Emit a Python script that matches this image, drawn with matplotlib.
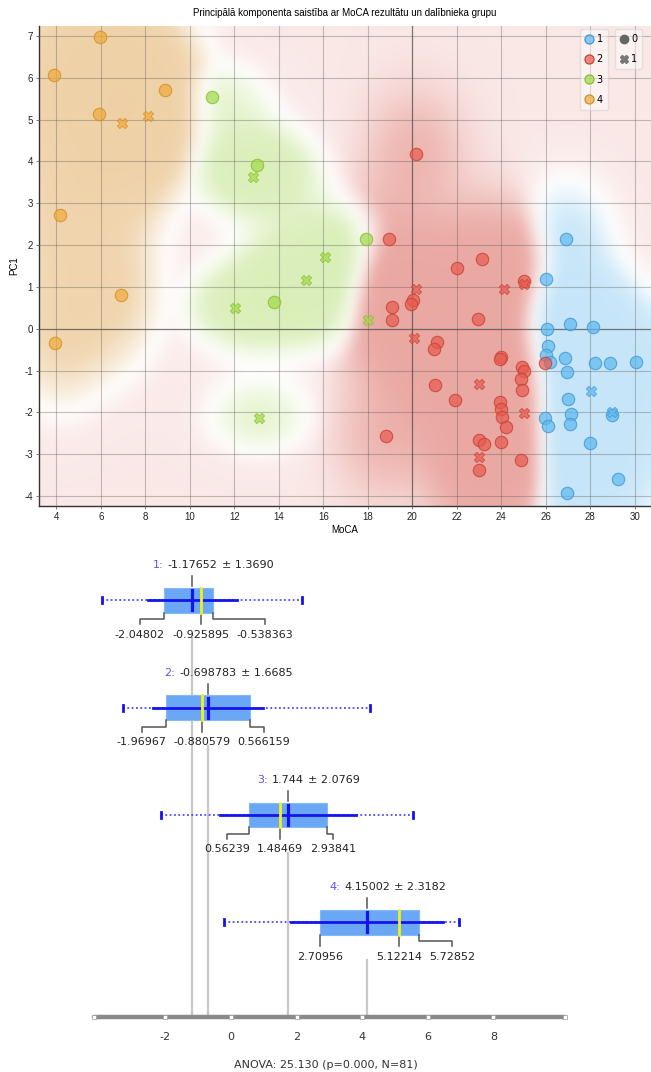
"""
PC1 vs MoCA scatter with group background map, plus box-plot summary per group.
"""

import numpy as np
import matplotlib
matplotlib.use('Agg')
import matplotlib.pyplot as plt
from matplotlib.lines import Line2D
from matplotlib.patches import Rectangle
from matplotlib.colors import to_rgb

plt.rcParams['axes.unicode_minus'] = False

# ---------------------------------------------------------------------------
# Scatter data (MoCA, PC1, cross marker flag) per group
# ---------------------------------------------------------------------------
g1_moca = [26.9, 26.01, 26.07, 27.07, 28.12, 26.11, 26.02, 26.2, 26.87, 28.19, 28.89,
           30.06, 26.97, 27.0, 27.15, 27.07, 25.95, 26.1, 28.98, 28.0, 29.24, 26.97,
           28.04, 28.97]
g1_pc1 = [2.14, 1.18, 0.0, 0.11, 0.05, -0.41, -0.64, -0.8, -0.69, -0.81, -0.81,
          -0.8, -1.04, -1.69, -2.03, -2.29, -2.13, -2.33, -2.07, -2.74, -3.59, -3.94,
          -1.49, -1.99]
g1_cross = [0] * 22 + [1, 1]

g2_moca = [23.11, 22.02, 25.0, 19.07, 20.01, 19.93, 19.07, 22.96, 21.12, 20.97, 24.0,
           23.93, 24.95, 25.0, 24.87, 24.92, 25.95, 21.0, 21.93, 23.93, 23.98, 24.04,
           24.2, 18.82, 23.0, 23.21, 23.98, 24.87, 23.0, 20.15, 18.97,
           20.16, 24.13, 25.0, 20.07, 22.99, 25.01, 22.99]
g2_pc1 = [1.66, 1.46, 1.14, 0.52, 0.69, 0.58, 0.2, 0.24, -0.31, -0.49, -0.67,
          -0.73, -0.92, -1.01, -1.2, -1.47, -0.81, -1.35, -1.71, -1.75, -1.93, -2.1,
          -2.35, -2.57, -2.67, -2.75, -2.71, -3.14, -3.39, 4.19, 2.15,
          0.94, 0.94, 1.08, -0.22, -1.33, -2.02, -3.06]
g2_cross = [0] * 31 + [1] * 7

g3_moca = [11.01, 13.0, 13.8, 17.92, 12.85, 12.03, 15.22, 16.08, 13.11, 18.0]
g3_pc1 = [5.55, 3.91, 0.63, 2.15, 3.62, 0.5, 1.16, 1.72, -2.13, 0.21]
g3_cross = [0, 0, 0, 0, 1, 1, 1, 1, 1, 1]

g4_moca = [5.96, 3.87, 8.89, 5.93, 4.17, 6.89, 3.94, 6.94, 8.13]
g4_pc1 = [6.98, 6.07, 5.71, 5.13, 2.73, 0.8, -0.33, 4.91, 5.09]
g4_cross = [0, 0, 0, 0, 0, 0, 0, 1, 1]

groups = ['1', '2', '3', '4']
group_colors = ['#5fb8ef', '#e85a4f', '#a2d94a', '#f0aa3c']
group_edges = ['#3d98d6', '#c94035', '#86bf2c', '#d48e22']
bg_colors = ['#78c2f0', '#dc6a60', '#b4de72', '#e2ab5e']
bg_alpha = [0.42, 0.58, 0.5, 0.55]

# ---------------------------------------------------------------------------
# Box-plot statistics per group
# ---------------------------------------------------------------------------
box_mean = [-1.17652, -0.698783, 1.744, 4.15002]
box_sd = [1.3690, 1.6685, 2.0769, 2.3182]
box_q1 = [-2.04802, -1.96967, 0.56239, 2.70956]
box_med = [-0.925895, -0.880579, 1.48469, 5.12214]
box_q3 = [-0.538363, 0.566159, 2.93841, 5.72852]
box_min = [-3.94, -3.30, -2.12, -0.22]
box_max = [2.16, 4.23, 5.54, 6.96]
anova_f, anova_p, anova_n = 25.130, 0.000, 81
axis_ticks = [-2, 0, 2, 4, 6, 8]

W, H = 651, 1072
fig = plt.figure(figsize=(W / 100, H / 100), dpi=100)

# ===========================================================================
# Scatter
# ===========================================================================
ax = fig.add_axes([39.3 / W, 1 - 506 / H, 611.7 / W, 480 / H])
XLIM, YLIM = (3.23, 30.73), (-4.24, 7.24)

all_moca = [g1_moca, g2_moca, g3_moca, g4_moca]
all_pc1 = [g1_pc1, g2_pc1, g3_pc1, g4_pc1]
all_cross = [g1_cross, g2_cross, g3_cross, g4_cross]

# background: per-group kernel scores, coloured by winning group
gx = np.linspace(*XLIM, 330)
gy = np.linspace(*YLIM, 260)
GX, GY = np.meshgrid(gx, gy)
bw = [(1.3, 0.9), (1.3, 0.9), (2.0, 0.75), (1.7, 1.4)]
base = [0.33, 0.6, 0.05, 0.07]
kern = []
for mx, my, (hx, hy) in zip(all_moca, all_pc1, bw):
    mx, my = np.array(mx), np.array(my)
    k = np.exp(-0.5 * (((GX[..., None] - mx) / hx) ** 2 + ((GY[..., None] - my) / hy) ** 2))
    kern.append(k.sum(-1))
K = np.stack(kern)
S = K + np.array(base)[:, None, None]
P = S / S.sum(0)
win = P.argmax(0)
Ps = np.sort(P, axis=0)
margin = np.clip((Ps[-1] - Ps[-2]) / 0.3, 0, 1) ** 0.8
k_win = np.take_along_axis(K, win[None], 0)[0]
dens = 1 - np.exp(-k_win / 0.7)
inten = margin * (0.3 + 0.7 * dens)

img = np.ones(GX.shape + (3,))
for i in range(4):
    m = win == i
    a = (inten * bg_alpha[i])[m][:, None]
    img[m] = (1 - a) + a * np.array(to_rgb(bg_colors[i]))

# soften the map a little
sig = 3.0
kx = np.arange(-9, 10)
g1d = np.exp(-0.5 * (kx / sig) ** 2)
g1d /= g1d.sum()
pad = np.pad(img, ((9, 9), (9, 9), (0, 0)), mode='edge')
tmp = sum(g1d[j] * pad[:, j:j + img.shape[1], :] for j in range(len(kx)))
img = sum(g1d[j] * tmp[j:j + img.shape[0], :, :] for j in range(len(kx)))

ax.imshow(img, extent=(*XLIM, *YLIM), origin='lower', aspect='auto',
          interpolation='bilinear', zorder=0)

for i in range(4):
    mx, my, cr = np.array(all_moca[i]), np.array(all_pc1[i]), np.array(all_cross[i])
    fc = to_rgb(group_colors[i]) + (0.7,)
    ec = to_rgb(group_edges[i]) + (0.8,)
    ax.scatter(mx[cr == 0], my[cr == 0], s=80, c=[fc], edgecolors=[ec], linewidths=0.8, zorder=3)
    ax.scatter(mx[cr == 1], my[cr == 1], s=55, marker='X', c=[fc], edgecolors=[ec],
               linewidths=0.6, zorder=3)

ax.set_xlim(*XLIM)
ax.set_ylim(*YLIM)
ax.set_xticks(range(4, 31, 2))
ax.set_yticks(range(-4, 8))
ax.grid(True, color='#555555', alpha=0.35, lw=0.8, zorder=1)
ax.set_axisbelow(False)
ax.axvline(20, color='#444444', lw=0.9, alpha=0.6, zorder=1)
ax.axhline(0, color='#444444', lw=0.9, alpha=0.6, zorder=1)
for s in ['top', 'right']:
    ax.spines[s].set_visible(False)
for s in ['left', 'bottom']:
    ax.spines[s].set_color('#333333')
    ax.spines[s].set_linewidth(1.0)
ax.tick_params(labelsize=7, length=2.5, width=0.6, color='#666666', labelcolor='#222222', pad=2)
for lab in ax.get_xticklabels() + ax.get_yticklabels():
    lab.set_fontfamily('Liberation Sans')
ax.set_xlabel('MoCA', fontsize=7, family='Liberation Sans', labelpad=2)
ax.set_ylabel('PC1', fontsize=7, family='Liberation Sans', labelpad=4)
ax.set_title('Principālā komponenta saistība ar MoCA rezultātu un dalībnieka grupu',
             fontsize=7, family='Liberation Sans', pad=7)

h1 = [Line2D([], [], ls='', marker='o', ms=6.5, mfc=to_rgb(c) + (0.7,), mec=e, mew=0.9)
      for c, e in zip(group_colors, group_edges)]
leg1 = ax.legend(h1, groups, loc='upper right', bbox_to_anchor=(0.929, 0.993),
                 fontsize=7, frameon=True, framealpha=0.45, edgecolor='#cccccc',
                 handlelength=0.9, handletextpad=0.3, labelspacing=1.05, borderpad=0.5,
                 borderaxespad=0)
ax.add_artist(leg1)
h2 = [Line2D([], [], ls='', marker='o', ms=6, mfc='#666666', mec='#666666'),
      Line2D([], [], ls='', marker='X', ms=6, mfc='#777777', mec='#777777')]
ax.legend(h2, ['0', '1'], loc='upper right', bbox_to_anchor=(0.986, 0.993),
          fontsize=7, frameon=True, framealpha=0.45, edgecolor='#cccccc',
          handlelength=0.9, handletextpad=0.3, labelspacing=1.05, borderpad=0.5,
          borderaxespad=0)

# ===========================================================================
# Box plots
# ===========================================================================
PX_UNIT, X0_PX = 32.8, 231.0          # pixels per unit, pixel of value 0
ROW, TOP_PX, B_TOP = 107.3, 600.4, 540  # row spacing, first box centre, panel top
axb = fig.add_axes([0, 0, 1, (H - B_TOP) / H])
axb.set_xlim(-X0_PX / PX_UNIT, (W - X0_PX) / PX_UNIT)
axb.set_ylim((H - TOP_PX) / ROW, (B_TOP - TOP_PX) / ROW)
axb.axis('off')


def r(px):
    return px / ROW


axis_row = r(1017.3 - TOP_PX)
axis_lo, axis_hi = -4.18, 10.18
BOXH = 12.3
FS = 8
BLUE = '#1414f0'
purple = '#6b4cf0'

fig.canvas.draw()
rend = fig.canvas.get_renderer()
inv = axb.transData.inverted()


def width_data(t):
    bb = t.get_window_extent(rend)
    return inv.transform((bb.x1, 0))[0] - inv.transform((bb.x0, 0))[0]


gap = 7 / PX_UNIT
for i in range(4):
    yc = i
    mean, sd = box_mean[i], box_sd[i]
    # gray mean line down to the axis
    axb.plot([mean, mean], [yc + r(38), axis_row], color='#c8c8c8', lw=1.6, zorder=1)
    # min-max dotted
    axb.plot([box_min[i], box_max[i]], [yc, yc], ls=(0, (1, 1.4)), color='#4a4aff', lw=1.3, zorder=2)
    for v in (box_min[i], box_max[i]):
        axb.plot([v, v], [yc - r(3), yc + r(3)], color=BLUE, lw=2.0, zorder=2)
    axb.add_patch(Rectangle((box_q1[i], yc - r(BOXH)), box_q3[i] - box_q1[i], 2 * r(BOXH),
                            fc='#6aa8f5', ec='#86b8f5', lw=0.8, zorder=3))
    axb.plot([mean - sd, mean + sd], [yc, yc], color=BLUE, lw=2.0, zorder=4)
    axb.plot([box_med[i]] * 2, [yc - r(BOXH), yc + r(BOXH)], color='#f2f21a', lw=2.0, zorder=5)
    axb.plot([mean, mean], [yc - r(10), yc + r(10)], color=BLUE, lw=2.3, zorder=6)

    # label above
    axb.plot([mean, mean], [yc - r(24), yc - r(14)], color='#555555', lw=1.1, zorder=4)
    tm = axb.text(mean, yc - r(35), f'{mean:g}', ha='center', va='center', fontsize=FS, color='#222222')
    axb.annotate(f'{groups[i]}:', xy=(0, 0), xycoords=tm, xytext=(-3, 0), textcoords='offset points',
                 ha='right', va='bottom', fontsize=FS, color=purple)
    axb.annotate(f'± {sd:.4f}', xy=(1, 0), xycoords=tm, xytext=(3, 0), textcoords='offset points',
                 ha='left', va='bottom', fontsize=FS, color='#222222')

    # quartile labels below, pushed apart from the median label
    ly = yc + r(34.5)
    t_med = axb.text(box_med[i], ly, f'{box_med[i]:g}', ha='center', va='center', fontsize=FS, color='#222222')
    t_q1 = axb.text(box_q1[i], ly, f'{box_q1[i]:g}', ha='center', va='center', fontsize=FS, color='#222222')
    t_q3 = axb.text(box_q3[i], ly, f'{box_q3[i]:g}', ha='center', va='center', fontsize=FS, color='#222222')
    w_med, w_q1, w_q3 = width_data(t_med), width_data(t_q1), width_data(t_q3)
    x_q1 = min(box_q1[i], box_med[i] - w_med / 2 - gap - w_q1 / 2)
    x_q3 = max(box_q3[i], box_med[i] + w_med / 2 + gap + w_q3 / 2)
    t_q1.set_x(x_q1)
    t_q3.set_x(x_q3)
    for v, lx in ((box_q1[i], x_q1), (box_med[i], box_med[i]), (box_q3[i], x_q3)):
        if abs(lx - v) < 1e-9:
            axb.plot([v, v], [yc + r(BOXH), yc + r(24)], color='#555555', lw=1.1, zorder=4)
        else:
            axb.plot([v, v, lx, lx], [yc + r(BOXH), yc + r(19), yc + r(19), yc + r(24)],
                     color='#555555', lw=1.1, zorder=4)

# axis
axb.plot([axis_lo, axis_hi], [axis_row, axis_row], color='#8a8a8a', lw=3.2,
         solid_capstyle='round', zorder=2)
axb.plot([axis_lo] + axis_ticks + [axis_hi], [axis_row] * (len(axis_ticks) + 2), ls='',
         marker='s', ms=3, mfc='white', mec='#9a9a9a', mew=0.5, zorder=3)
for t in axis_ticks:
    axb.text(t, axis_row + r(19.4), f'{t}', ha='center', va='center', fontsize=FS, color='#333333')
fig.text(0.5, 1 - 1065 / H, f'ANOVA: {anova_f:.3f} (p={anova_p:.3f}, N={anova_n})',
         ha='center', va='center', fontsize=FS, color='#333333')

fig.savefig('out.png', dpi=100)
